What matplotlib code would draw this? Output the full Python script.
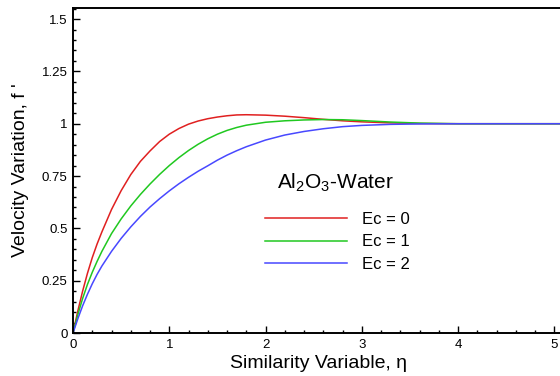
import matplotlib
matplotlib.use("Agg")
import matplotlib.pyplot as plt
from matplotlib.ticker import MultipleLocator

plt.rcParams['font.family'] = ['Liberation Sans', 'DejaVu Sans']
plt.rcParams['mathtext.fontset'] = 'custom'
plt.rcParams['mathtext.rm'] = 'Liberation Sans'
plt.rcParams['mathtext.it'] = 'Liberation Sans:italic'

# Similarity variable eta (read points)
eta = [0, 0.05, 0.1, 0.15, 0.2, 0.25, 0.3, 0.4, 0.5, 0.6, 0.7, 0.8, 0.9, 1.0,
       1.1, 1.2, 1.3, 1.4, 1.5, 1.6, 1.7, 1.8, 2.0, 2.2, 2.4, 2.6, 2.8, 3.0,
       3.3, 3.6, 4.0, 4.5, 5.1]

# Velocity f' for each Eckert number
f_ec0 = [0, 0.105, 0.20, 0.285, 0.36, 0.425, 0.483, 0.59, 0.68, 0.757, 0.82, 0.87, 0.915, 0.95,
         0.977, 0.998, 1.013, 1.024, 1.032, 1.038, 1.042, 1.043, 1.041, 1.036, 1.029, 1.021, 1.014, 1.009,
         1.004, 1.001, 1.0, 1.0, 1.0]
f_ec1 = [0, 0.088, 0.165, 0.232, 0.29, 0.342, 0.39, 0.475, 0.545, 0.607, 0.662, 0.712, 0.758, 0.80,
         0.838, 0.872, 0.902, 0.928, 0.95, 0.968, 0.982, 0.993, 1.007, 1.014, 1.018, 1.02, 1.019, 1.015,
         1.008, 1.003, 1.0, 1.0, 1.0]
f_ec2 = [0, 0.068, 0.13, 0.185, 0.235, 0.28, 0.32, 0.39, 0.452, 0.507, 0.557, 0.602, 0.642, 0.679,
         0.713, 0.744, 0.773, 0.799, 0.826, 0.85, 0.871, 0.89, 0.922, 0.946, 0.963, 0.976, 0.986, 0.992,
         0.997, 0.999, 1.0, 1.0, 1.0]

labels = ["Ec = 0", "Ec = 1", "Ec = 2"]
colors = ["#E02020", "#20C820", "#4848FF"]
series = [f_ec0, f_ec1, f_ec2]

x_ticks = [0, 1, 2, 3, 4, 5]
y_ticks = [0, 0.25, 0.5, 0.75, 1, 1.25, 1.5]
y_tick_labels = ["0", "0.25", "0.5", "0.75", "1", "1.25", "1.5"]

W, H = 560, 376
fig = plt.figure(figsize=(W / 100, H / 100), dpi=100)
ax = fig.add_axes([73 / W, 43 / H, 491 / W, 325 / H])

for ys, c, lab in zip(series, colors, labels):
    ax.plot(eta, ys, color=c, lw=1.1, label=lab)

ax.set_xlim(0, 5.1)
ax.set_ylim(0, 1.553)
ax.set_xticks(x_ticks)
ax.set_xticklabels([str(t) for t in x_ticks])
ax.set_yticks(y_ticks)
ax.set_yticklabels(y_tick_labels)
ax.xaxis.set_minor_locator(MultipleLocator(0.2))
ax.yaxis.set_minor_locator(MultipleLocator(0.05))
ax.tick_params(which='both', direction='in', top=False, right=False, width=1.0, labelsize=9.5)
ax.tick_params(which='major', length=5, pad=4)
ax.tick_params(which='minor', length=2.5)
for s in ax.spines.values():
    s.set_linewidth(1.4)
ax.spines['right'].set_visible(False)

ax.set_xlabel("Similarity Variable, η", fontsize=14, labelpad=3.5)
ax.set_ylabel("Velocity Variation, f '", fontsize=14, labelpad=9)

fig.text(335 / W, 1 - 183 / H, r"Al$_2$O$_3$-Water", fontsize=15, ha='center', va='center')
ax.legend(loc='upper left', bbox_to_anchor=(265 / W, 1 - 212 / H),
          bbox_transform=fig.transFigure, frameon=False, fontsize=12,
          handlelength=4.9, handletextpad=0.9, labelspacing=0.45,
          borderpad=0, borderaxespad=0)

fig.savefig("out.png", dpi=100)
